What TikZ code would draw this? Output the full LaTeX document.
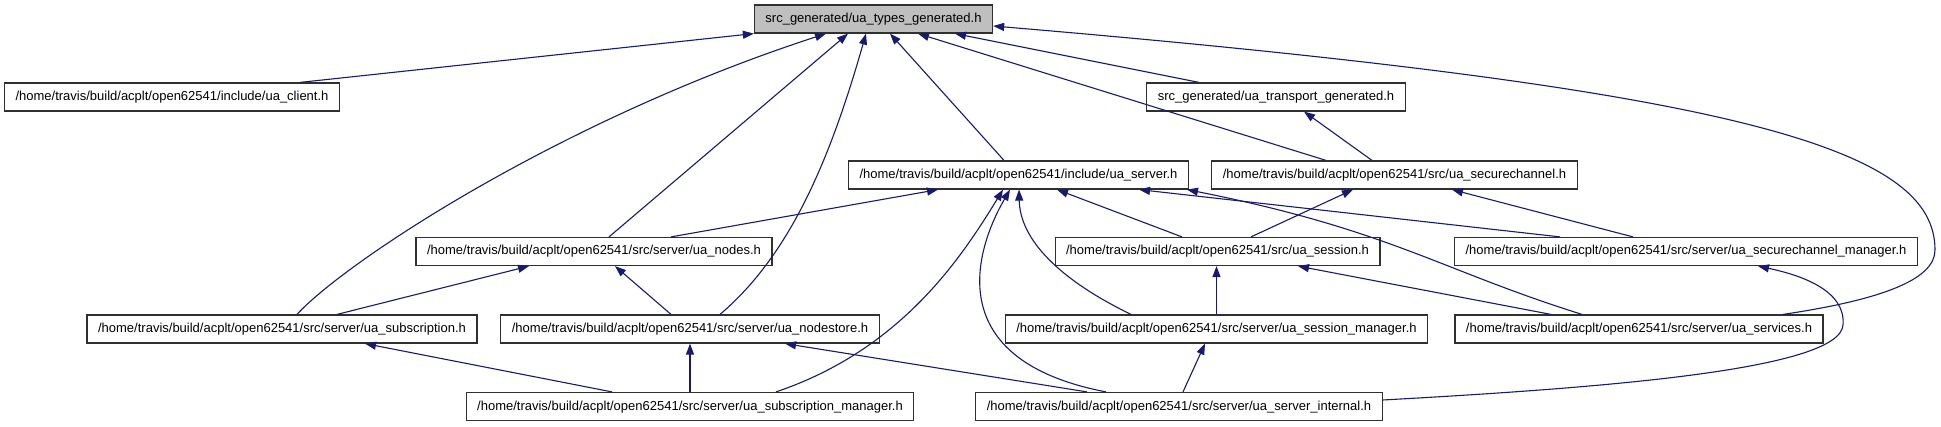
\documentclass[tikz,border=0pt]{standalone}
\usepackage{fontspec}
\newfontfamily\dfont{Liberation Sans}
\usetikzlibrary{arrows.meta,calc}
\definecolor{edgeblue}{HTML}{191970}
\definecolor{boxborder}{HTML}{303030}
\definecolor{topfill}{HTML}{BFBFBF}
\begin{document}
\begin{tikzpicture}[x=1pt,y=-1pt,
  file/.style={draw=boxborder, line width=1.2pt, fill=white,
    font=\dfont\fontsize{13}{15}\selectfont, inner xsep=11pt, inner ysep=0pt,
    minimum height=28pt, text height=9.6pt, text depth=2.6pt},
  edge/.style={draw=edgeblue, line width=1.1pt, -{Triangle[length=11pt,width=8pt]}}]
\useasboundingbox[fill=white] (0,0) rectangle (1941,427);

\node[file, fill=topfill] (types) at (873.5,19) {src\_generated/ua\_types\_generated.h};
\node[file] (client) at (172,97) {/home/travis/build/acplt/open62541/include/ua\_client.h};
\node[file] (transport) at (1276,97) {src\_generated/ua\_transport\_generated.h};
\node[file] (server) at (1018.5,175) {/home/travis/build/acplt/open62541/include/ua\_server.h};
\node[file] (schan) at (1394.5,175) {/home/travis/build/acplt/open62541/src/ua\_securechannel.h};
\node[file] (nodes) at (594,251.5) {/home/travis/build/acplt/open62541/src/server/ua\_nodes.h};
\node[file] (session) at (1217.5,251.5) {/home/travis/build/acplt/open62541/src/ua\_session.h};
\node[file] (scman) at (1686,251.5) {/home/travis/build/acplt/open62541/src/server/ua\_securechannel\_manager.h};
\node[file] (subs) at (282,329) {/home/travis/build/acplt/open62541/src/server/ua\_subscription.h};
\node[file] (nstore) at (690,329) {/home/travis/build/acplt/open62541/src/server/ua\_nodestore.h};
\node[file] (sessman) at (1216.5,329) {/home/travis/build/acplt/open62541/src/server/ua\_session\_manager.h};
\node[file] (services) at (1639,329) {/home/travis/build/acplt/open62541/src/server/ua\_services.h};
\node[file] (subman) at (690,406.5) {/home/travis/build/acplt/open62541/src/server/ua\_subscription\_manager.h};
\node[file] (internal) at (1179,406.5) {/home/travis/build/acplt/open62541/src/server/ua\_server\_internal.h};

% to types
\draw[edge] ($(client.north)+(128,0)$) -- (types.south west);
\draw[edge] ($(subs.north)+(15,0)$) .. controls (345,262) and (560,120) .. ($(types.south)+(-47.5,0)$);
\draw[edge] ($(nodes.north)+(15,0)$) -- ($(types.south)+(-25.5,0)$);
\draw[edge] ($(nstore.north)+(30,0)$) .. controls (790,255) and (830,160) .. ($(types.south)+(-7.5,0)$);
\draw[edge] ($(server.north)+(-14.5,0)$) -- ($(types.south)+(16.5,0)$);
\draw[edge] ($(schan.north)+(-68.5,0)$) -- ($(types.south)+(44.5,0)$);
\draw[edge] ($(transport.north)+(-77,0)$) -- ($(types.south)+(81.5,0)$);
\draw[edge] ($(services.north)+(144,0)$) .. controls (1880,300) and (1935,280) .. (1935,250)
  .. controls (1935,150) and (1750,90) .. ($(types.east)+(0,7)$);
% to transport
\draw[edge] ($(schan.north)+(-22.5,0)$) -- ($(transport.south)+(28,0)$);
% to server
\draw[edge] ($(nodes.north)+(77,0)$) -- ($(server.south)+(-80.5,0)$);
\draw[edge] ($(session.north)+(-35.5,0)$) -- ($(server.south)+(38.5,0)$);
\draw[edge] ($(scman.north)+(-126,0)$) -- ($(server.south)+(120.5,0)$);
\draw[edge] ($(services.north)+(-57,0)$) .. controls (1440,270) and (1390,230) .. ($(server.south)+(168.5,0)$);
\draw[edge] ($(sessman.north)+(-85.5,0)$) .. controls (1060,280) and (1020,240) .. ($(server.south)+(0.5,0)$);
\draw[edge] ($(subman.north)+(86,0)$) .. controls (900,350) and (960,260) .. ($(server.south)+(-15.5,0)$);
\draw[edge] ($(internal.north)+(-73,0)$) .. controls (940,360) and (975,250) .. ($(server.south)+(-8.5,0)$);
% to securechannel
\draw[edge] ($(scman.north)+(-53,0)$) -- ($(schan.south)+(57.5,0)$);
\draw[edge] ($(session.north)+(33.5,0)$) -- ($(schan.south)+(-41.5,0)$);
% to session
\draw[edge] ($(services.north)+(-88,0)$) -- ($(session.south)+(80.5,0)$);
\draw[edge] (sessman.north) -- (sessman.north |- session.south);
% to nodes
\draw[edge] ($(subs.north)+(55,0)$) -- ($(nodes.south)+(-65,0)$);
\draw[edge] ($(nstore.north)+(-19,0)$) -- ($(nodes.south)+(21,0)$);
% to subscription, nodestore
\draw[edge] ($(subman.north)+(-78,0)$) -- ($(subs.south)+(83,0)$);
\draw[edge] (subman.north) -- (nstore.south);
\draw[edge] ($(internal.north)+(-92,0)$) -- ($(nstore.south)+(95,0)$);
% to session manager
\draw[edge] ($(internal.north)+(4,0)$) -- ($(sessman.south)+(-11.5,0)$);
% to securechannel manager
\draw[edge] ($(internal.east)+(0,-6.5)$) .. controls (1600,388) and (1840,370) .. (1843,325)
  .. controls (1846,290) and (1800,275) .. ($(scman.south)+(72,0)$);
\end{tikzpicture}
\end{document}
